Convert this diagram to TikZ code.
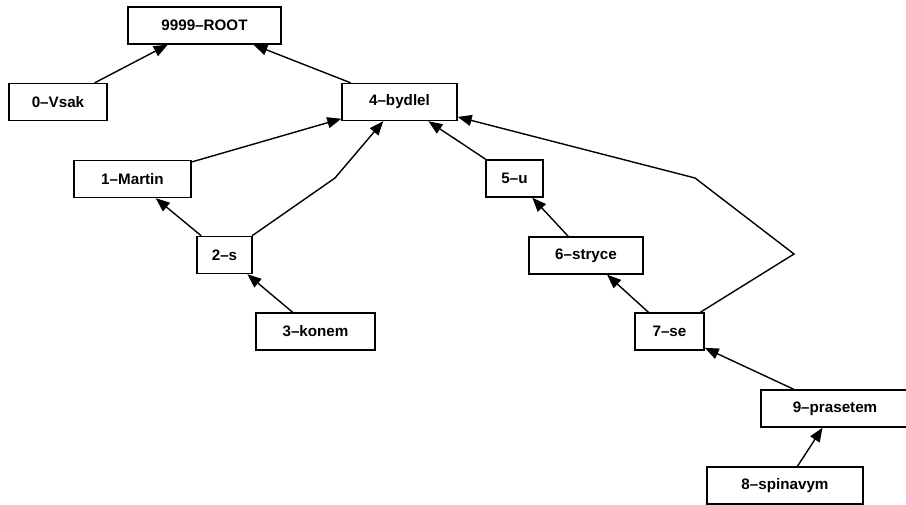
\documentclass[tikz,border=0pt]{standalone}
\usepackage{fontspec}
\setmainfont{Liberation Sans}
\usetikzlibrary{arrows.meta}
\begin{document}
\begin{tikzpicture}[x=1pt,y=-1pt,
  box/.style={draw=black,line width=1.4pt,rectangle,minimum height=37pt,inner sep=0pt,
    font=\fontsize{15.2}{18}\selectfont\bfseries},
  arr/.style={draw=black,line width=1.4pt,-{Triangle[length=14pt,width=11pt]}}]
\useasboundingbox (0,0) rectangle (906,505);
\node[box,minimum width=153pt] (root) at (204.5,25.5) {9999–ROOT};
\node[box,minimum width=98pt] (vsak) at (58,102) {0–Vsak};
\node[box,minimum width=115pt] (bydlel) at (399.5,102) {4–bydlel};
\node[box,minimum width=117pt] (martin) at (132.5,179) {1–Martin};
\node[box,minimum width=55pt] (s) at (224.5,255) {2–s};
\node[box,minimum width=119pt] (konem) at (315.5,331.5) {3–konem};
\node[box,minimum width=57pt] (u) at (514.5,178.5) {5–u};
\node[box,minimum width=114pt] (stryce) at (586,255.5) {6–stryce};
\node[box,minimum width=69pt] (se) at (669.5,331.5) {7–se};
\node[box,minimum width=148pt] (prasetem) at (835,408.5) {9–prasetem};
\node[box,minimum width=156pt] (spinavym) at (785,485.5) {8–spinavym};
\coordinate (b1) at (335,178);
\coordinate (b2) at (794,254);
\coordinate (b3) at (695,178);
\draw[arr] (vsak) -- (root);
\draw[arr] (bydlel) -- (root);
\draw[arr] (martin) -- (bydlel);
\draw[arr] (s) -- (martin);
\draw[arr] (s) -- (b1) -- (bydlel);
\draw[arr] (konem) -- (s);
\draw[arr] (u) -- (bydlel);
\draw[arr] (stryce) -- (u);
\draw[arr] (se) -- (stryce);
\draw[arr] (se) -- (b2) -- (b3) -- (bydlel);
\draw[arr] (prasetem) -- (se);
\draw[arr] (spinavym) -- (prasetem);
\end{tikzpicture}
\end{document}
